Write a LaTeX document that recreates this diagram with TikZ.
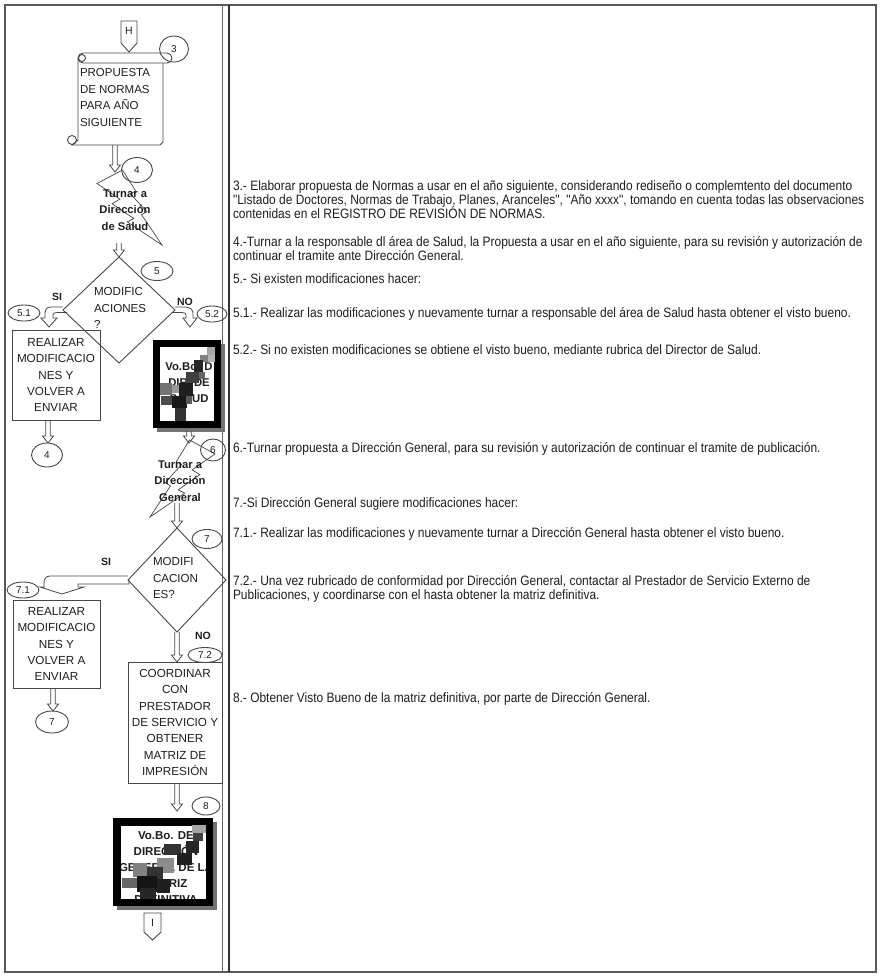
\documentclass[tikz,border=0pt]{standalone}
\usepackage{fontspec}
\setmainfont{Liberation Sans}
\newfontfamily\narrowfont{Liberation Sans}[FakeStretch=0.88]
\usetikzlibrary{calc,shapes.geometric}
\begin{document}
\begin{tikzpicture}[x=1pt,y=-1pt,
  every node/.style={inner sep=0pt, outer sep=0pt, text=black!88},
  ink/.style={draw=black!72, line width=0.9pt},
  frame/.style={draw=black!65, line width=1.3pt},
  boxtxt/.style={font=\fontsize{11.7}{16.3}\selectfont, align=center},
  scrolltxt/.style={font=\fontsize{11.5}{16.6}\selectfont, align=left},
  num/.style={ellipse, draw=black!72, line width=0.9pt, font=\fontsize{10}{12}\selectfont},
  bolttxt/.style={font=\bfseries\fontsize{11.2}{16.5}\selectfont, align=center},
  lbl/.style={font=\bfseries\fontsize{10.5}{12}\selectfont},
  vobotxt/.style={font=\bfseries\fontsize{11.3}{16}\selectfont, align=center},
  desc/.style={font=\narrowfont\fontsize{13.6}{14}\selectfont, anchor=base west},
  procbox/.style={rectangle, draw=black!72, line width=0.9pt},
  decision/.style={diamond, draw=black!72, line width=0.9pt},
  hollow/.style={draw=black!72, line width=0.8pt, to path={let \p1=(\tikztostart), \p2=(\tikztotarget) in
     (\x1-2.3pt,\y1) -- (\x1-2.3pt,\y2+7pt) -- (\x1-5.5pt,\y2+7pt) -- (\x1,\y2) -- (\x1+5.5pt,\y2+7pt) -- (\x1+2.3pt,\y2+7pt) -- (\x1+2.3pt,\y1)}},
  px/.style={draw=none},
]
\useasboundingbox (0,0) rectangle (881,978);
\fill[white] (0,0) rectangle (881,978);

% ---------- table frame ----------
\draw[frame] (5,5) rectangle (876,972);
\draw[draw=black!60, line width=1pt] (222,5) -- (222,972);
\draw[draw=black!80, line width=2pt] (229,5) -- (229,972);

% ---------- off-page connector H ----------
\draw[ink] (121,21) -- (137,21) -- (137,43) -- (129,52) -- (121,43) -- cycle;
\node[font=\fontsize{10.5}{12}\selectfont] (H) at (129,31) {H};

% ---------- scroll: proposal document ----------
\draw[ink, fill=white] (78,58) -- (78,140) -- (72,145) -- (160,145) -- (163,142) -- (163,63);
\draw[ink, fill=white, rounded corners=5pt] (78,53) rectangle (172,63);
\draw[ink] (82,58) circle (3.5);
\draw[ink] (72,140) circle (4.5);
\node[scrolltxt, anchor=west] (doc) at (80,97.5) {PROPUESTA\\DE NORMAS\\PARA AÑO\\SIGUIENTE};
\node[num, minimum width=29, minimum height=26] (c3) at (174,49) {3};
\coordinate (docB) at (115,145);

% ---------- lightning: Turnar a Dirección de Salud ----------
\draw[ink, line width=0.7pt] (122.5,170) -- (135.7,191.1) -- (130.3,193.6) -- (146.9,211.7) -- (141.5,214.7) -- (162,245)
   -- (127.2,221.8) -- (133.8,218.6) -- (112.1,203.7) -- (119.9,199.1) -- (97,183.5) -- cycle;
\node[bolttxt] (turn1) at (125,210) {Turnar a\\Dirección\\de Salud};
\node[num, minimum width=31, minimum height=25] (c4) at (137,170) {4};
\coordinate (turn1T) at (115,172);
\coordinate (turn1B) at (119,243);
\draw[hollow] (docB) to (turn1T);

% ---------- decision 5 ----------
\node[decision, minimum width=112, minimum height=106] (d5) at (119,310) {};
\node[font=\fontsize{11.6}{16.2}\selectfont, align=left, anchor=west] (d5t) at (94,308) {MODIFIC\\ACIONES\\?};
\draw[hollow] (turn1B) to (d5.north);
\node[num, minimum width=32, minimum height=19] (c5) at (157,271) {5};
\node[lbl] (si1) at (57,297) {SI};
\node[lbl] (no1) at (185,302) {NO};

% bent arrows out of decision 5
\draw[ink, line width=0.8pt] (d5.west) ++(0,-3) -- ++(-12,0) .. controls ++(-5,0) and ++(0,-3) .. ++(-6,6)
   -- ++(0,5) -- ++(-4,0) -- ++(8,9) -- ++(8,-9) -- ++(-4,0) -- ++(0,-3)
   .. controls ++(0,-1.5) and ++(-3,0) .. ++(4,-2.5) -- ++(10,0);
\draw[ink, line width=0.8pt] (d5.east) ++(0,-3) -- ++(10,0) .. controls ++(5,0) and ++(0,-3) .. ++(8,6)
   -- ++(0,5) -- ++(4,0) -- ++(-7,9) -- ++(-7,-9) -- ++(3,0) -- ++(0,-3)
   .. controls ++(0,-1.5) and ++(3,0) .. ++(-4,-2.5) -- ++(-10,0);
\node[num, minimum width=32, minimum height=16] (c51) at (24,313) {5.1};
\node[num, minimum width=30, minimum height=16] (c52) at (212,314) {5.2};

% ---------- 5.1 box ----------
\node[procbox, boxtxt, minimum width=88, minimum height=90] (b51) at (56,375) {REALIZAR\\MODIFICACIO\\NES Y\\VOLVER A\\ENVIAR};
\node[num, minimum width=31, minimum height=24] (c4b) at (47,455) {4};
\draw[hollow] (b51.south -| c4b) ++(1,0) to (c4b.north);

% ---------- Vo.Bo. Director de Salud ----------
\fill[black!55] (157,344) rectangle (225,432);
\fill[white] (153,340) rectangle (221,428);
\node[vobotxt] (v1) at (189,383) {Vo.Bo. D\\DIR. DE\\SALUD};
\draw[black, line width=7pt] (156.5,343.5) rectangle (217.5,424.5);
\fill[px, black!35] (207,347) rectangle (215,355);
\fill[px, black!50] (200,355) rectangle (208,362);
\fill[px, black!30] (208,355) rectangle (215,362);
\fill[px, black!85] (194,360) rectangle (203,372);
\fill[px, black!75] (186,372) rectangle (199,383);
\fill[px, black!60] (199,372) rectangle (205,379);
\fill[px, black!88] (179,383) rectangle (193,396);
\fill[px, black!55] (160,383) rectangle (172,395);
\fill[px, black!40] (172,385) rectangle (179,393);
\fill[px, black!90] (172,396) rectangle (187,408);
\fill[px, black!70] (161,396) rectangle (172,405);
\fill[px, black!80] (175,408) rectangle (186,421);
\fill[px, black!65] (186,396) rectangle (192,404);
\coordinate (v1B) at (189,431);

% ---------- lightning: Turnar a Dirección General ----------
\draw[ink, line width=0.7pt] (189.5,440) -- (176.3,461.6) -- (181.7,464.3) -- (165.1,482.8) -- (170.5,485.9) -- (150,517)
   -- (184.8,493.1) -- (178.2,489.9) -- (199.9,474.6) -- (192.1,469.9) -- (215,453.9) -- cycle;
\node[bolttxt] (turn2) at (180,481) {Turnar a\\Dirección\\General};
\node[num, minimum width=25, minimum height=22] (c6) at (213,450) {6};
\coordinate (turn2T) at (189,443);
\coordinate (turn2B) at (177,503);
\draw[hollow] (v1B) to (turn2T);

% ---------- decision 7 ----------
\node[decision, minimum width=98, minimum height=104] (d7) at (177,580) {};
\node[font=\fontsize{11.6}{16.5}\selectfont, align=left, anchor=west] (d7t) at (153,578) {MODIFI\\CACION\\ES?};
\draw[hollow] (turn2B) to (d7.north);
\node[num, minimum width=30, minimum height=19] (c7) at (207,539) {7};
\node[lbl] (si2) at (106,562) {SI};
\node[lbl] (no2) at (203,636) {NO};

% bent arrow towards 7.1
\draw[ink, line width=0.8pt] (d7.west) ++(0,-4) -- ++(-78,0) .. controls ++(-4,0) and ++(0,-4) .. ++(-6,7)
   -- ++(0,4) -- ++(-4,0) -- ++(22,7) -- ++(22,-7) -- ++(-6,0) -- ++(0,-3) -- ++(51,0) -- ++(0,-4);
\node[num, minimum width=32, minimum height=16] (c71) at (23,590) {7.1};

% ---------- 7.1 box ----------
\node[procbox, boxtxt, minimum width=87, minimum height=88] (b71) at (56.5,644) {REALIZAR\\MODIFICACIO\\NES Y\\VOLVER A\\ENVIAR};
\node[num, minimum width=33, minimum height=22] (c7b) at (52,722) {7};
\draw[hollow] (b71.south -| c7b) ++(1,0) to (c7b.north);

% ---------- 7.2 box ----------
\node[procbox, boxtxt, minimum width=94, minimum height=121] (b72) at (175,722.5) {COORDINAR\\CON\\PRESTADOR\\DE SERVICIO Y\\OBTENER\\MATRIZ DE\\IMPRESIÓN};
\draw[hollow] (d7.south) to (b72.north -| d7.south);
\node[num, minimum width=34, minimum height=15] (c72) at (205,655) {7.2};

% ---------- Vo.Bo. Dirección General ----------
\coordinate (v2T) at (177,811);
\draw[hollow] (b72.south -| v2T) to (v2T);
\fill[black!55] (117,822) rectangle (217,910);
\fill[white] (113,818) rectangle (213,906);
\node[vobotxt, font=\bfseries\fontsize{11.5}{16}\selectfont] (v2) at (166,868) {Vo.Bo. DE\\DIRECCIÓN\\GENERAL DE LA\\MATRIZ\\DEFINITIVA};
\draw[black, line width=7.5pt] (116.75,821.75) rectangle (209.25,902.25);
\fill[px, black!35] (192,825) rectangle (206,833);
\fill[px, black!75] (193,833) rectangle (203,841);
\fill[px, black!85] (186,841) rectangle (199,853);
\fill[px, black!80] (164,844) rectangle (181,855);
\fill[px, black!88] (177,853) rectangle (192,865);
\fill[px, black!45] (157,858) rectangle (174,873);
\fill[px, black!50] (133,863) rectangle (147,877);
\fill[px, black!80] (147,867) rectangle (163,880);
\fill[px, black!92] (137,876) rectangle (157,892);
\fill[px, black!88] (157,879) rectangle (170,893);
\fill[px, black!85] (140,888) rectangle (156,899);
\fill[px, black!60] (122,878) rectangle (137,888);
\node[num, minimum width=28, minimum height=18] (c8) at (206,806) {8};

% ---------- off-page connector I ----------
\draw[ink] (144,913) -- (161,913) -- (161,932) -- (152.5,940) -- (144,932) -- cycle;
\node[font=\fontsize{10.5}{12}\selectfont] (I) at (152.5,923) {I};

% ---------- step descriptions ----------
\node[desc] (t3a) at (233,190) {3.- Elaborar propuesta de Normas a usar en el año siguiente, considerando rediseño o complemtento del documento};
\node[desc] (t3b) at (233,204) {"Listado de Doctores, Normas de Trabajo, Planes, Aranceles", "Año xxxx", tomando en cuenta todas las observaciones};
\node[desc] (t3c) at (233,218) {contenidas en el REGISTRO DE REVISIÓN DE NORMAS.};
\node[desc] (t4a) at (233,246) {4.-Turnar a la responsable dl área de Salud, la Propuesta a usar en el año siguiente, para su revisión y autorización de};
\node[desc] (t4b) at (233,260) {continuar el tramite ante Dirección General.};
\node[desc] (t5) at (233,283) {5.- Si existen modificaciones hacer:};
\node[desc] (t51) at (233,317) {5.1.- Realizar las modificaciones y nuevamente turnar a responsable del área de Salud hasta obtener el visto bueno.};
\node[desc] (t52) at (233,354) {5.2.- Si no existen modificaciones se obtiene el visto bueno, mediante rubrica del Director de Salud.};
\node[desc] (t6) at (233,452) {6.-Turnar propuesta a Dirección General, para su revisión y autorización de continuar el tramite de publicación.};
\node[desc] (t7) at (233,507) {7.-Si Dirección General sugiere modificaciones hacer:};
\node[desc] (t71) at (233,537) {7.1.- Realizar las modificaciones y nuevamente turnar a Dirección General hasta obtener el visto bueno.};
\node[desc] (t72a) at (233,585) {7.2.- Una vez rubricado de conformidad por Dirección General, contactar al Prestador de Servicio Externo de};
\node[desc] (t72b) at (233,599) {Publicaciones, y coordinarse con el hasta obtener la matriz definitiva.};
\node[desc] (t8) at (233,702) {8.- Obtener Visto Bueno de la matriz definitiva, por parte de Dirección General.};
\end{tikzpicture}
\end{document}
